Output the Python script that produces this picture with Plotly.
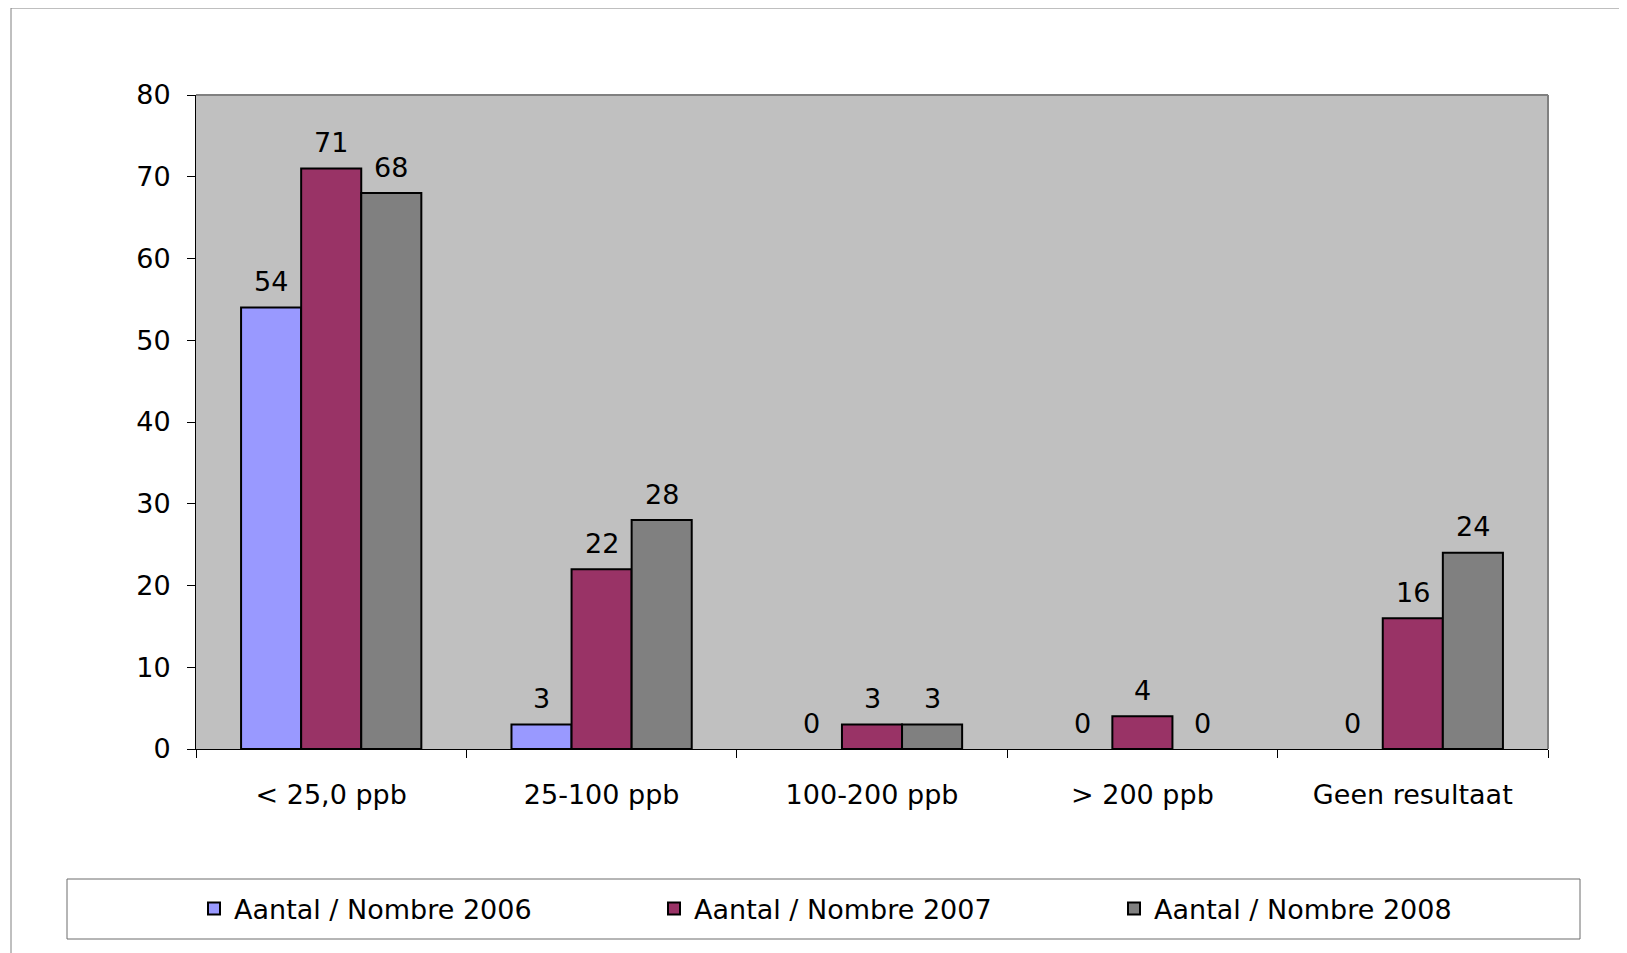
import plotly.graph_objects as go

categories = ["< 25,0 ppb", "25-100 ppb", "100-200 ppb", "> 200 ppb", "Geen resultaat"]
series_names = ["Aantal / Nombre 2006", "Aantal / Nombre 2007", "Aantal / Nombre 2008"]
values_2006 = [54, 3, 0, 0, 0]
values_2007 = [71, 22, 3, 4, 16]
values_2008 = [68, 28, 3, 0, 24]
colors = ["#9999FF", "#993366", "#808080"]

OFF = 8  # page body margin
W, H = 1627 - OFF, 953 - OFF
L, R, T, B = 196 - OFF, 1548 - OFF, 95 - OFF, 749 - OFF
pw, ph = R - L, B - T

def px_x(p):
    return (p - OFF - L) / pw

def px_y(p):
    return (B - (p - OFF)) / ph

FONT = "DejaVu Sans"
FS = 27

fig = go.Figure()
all_vals = [values_2006, values_2007, values_2008]
for name, vals, col in zip(series_names, all_vals, colors):
    fig.add_trace(go.Bar(
        x=categories, y=vals, name=name,
        marker=dict(color=col,
                    line=dict(color="black", width=[2 if v else 0 for v in vals])),
    ))

bar_w = (1 - 1 / 3) / 3
annotations = []
for k, vals in enumerate(all_vals):
    for i, v in enumerate(vals):
        annotations.append(dict(
            x=i + (k - 1) * bar_w, y=v, xref="x", yref="y",
            text=str(v), showarrow=False, yanchor="middle", yshift=26,
            font=dict(family=FONT, size=FS, color="black"),
        ))

shapes = [
    # outer chart border
    dict(type="rect", xref="paper", yref="paper",
         x0=px_x(11), x1=px_x(1700), y0=px_y(8), y1=px_y(1000),
         line=dict(color="#808080", width=1), fillcolor="rgba(0,0,0,0)", layer="below"),
    # plot area top/right border
    dict(type="line", xref="paper", yref="paper", x0=0, x1=1, y0=1, y1=1,
         line=dict(color="#808080", width=2), layer="above"),
    dict(type="line", xref="paper", yref="paper", x0=1, x1=1, y0=0, y1=1,
         line=dict(color="#808080", width=2), layer="above"),
    # legend box
    dict(type="rect", xref="paper", yref="paper",
         x0=px_x(67), x1=px_x(1580), y0=px_y(879), y1=px_y(939),
         line=dict(color="#6d6d6d", width=1), fillcolor="white", layer="below"),
]

fig.update_layout(
    width=W, height=H,
    margin=dict(l=L, r=W - R, t=T, b=H - B, autoexpand=False),
    paper_bgcolor="white", plot_bgcolor="#C0C0C0",
    barmode="group", bargap=1 / 3, bargroupgap=0,
    font=dict(family=FONT, size=FS, color="black"),
    showlegend=True,
    legend=dict(orientation="h", x=px_x(194), xanchor="left",
                y=px_y(909), yanchor="middle",
                entrywidth=415, entrywidthmode="pixels",
                font=dict(family=FONT, size=FS, color="black"),
                bgcolor="rgba(0,0,0,0)", borderwidth=0, traceorder="normal"),
    annotations=annotations,
    shapes=shapes,
)
fig.update_xaxes(type="category", range=[-0.5, 4.5], tickson="boundaries",
                 ticks="outside", ticklen=8, tickcolor="black", tickwidth=1,
                 showline=True, linecolor="black", linewidth=1, showgrid=False,
                 tickfont=dict(family=FONT, size=FS, color="black"),
                 ticklabelstandoff=22, fixedrange=True)
fig.update_yaxes(range=[0, 80], dtick=10, tick0=0,
                 ticks="outside", ticklen=8, tickcolor="black", tickwidth=1,
                 showline=True, linecolor="black", linewidth=1, showgrid=False,
                 zeroline=False,
                 tickfont=dict(family=FONT, size=FS, color="black"),
                 ticklabelstandoff=11, fixedrange=True)

fig.write_html("out.html")
